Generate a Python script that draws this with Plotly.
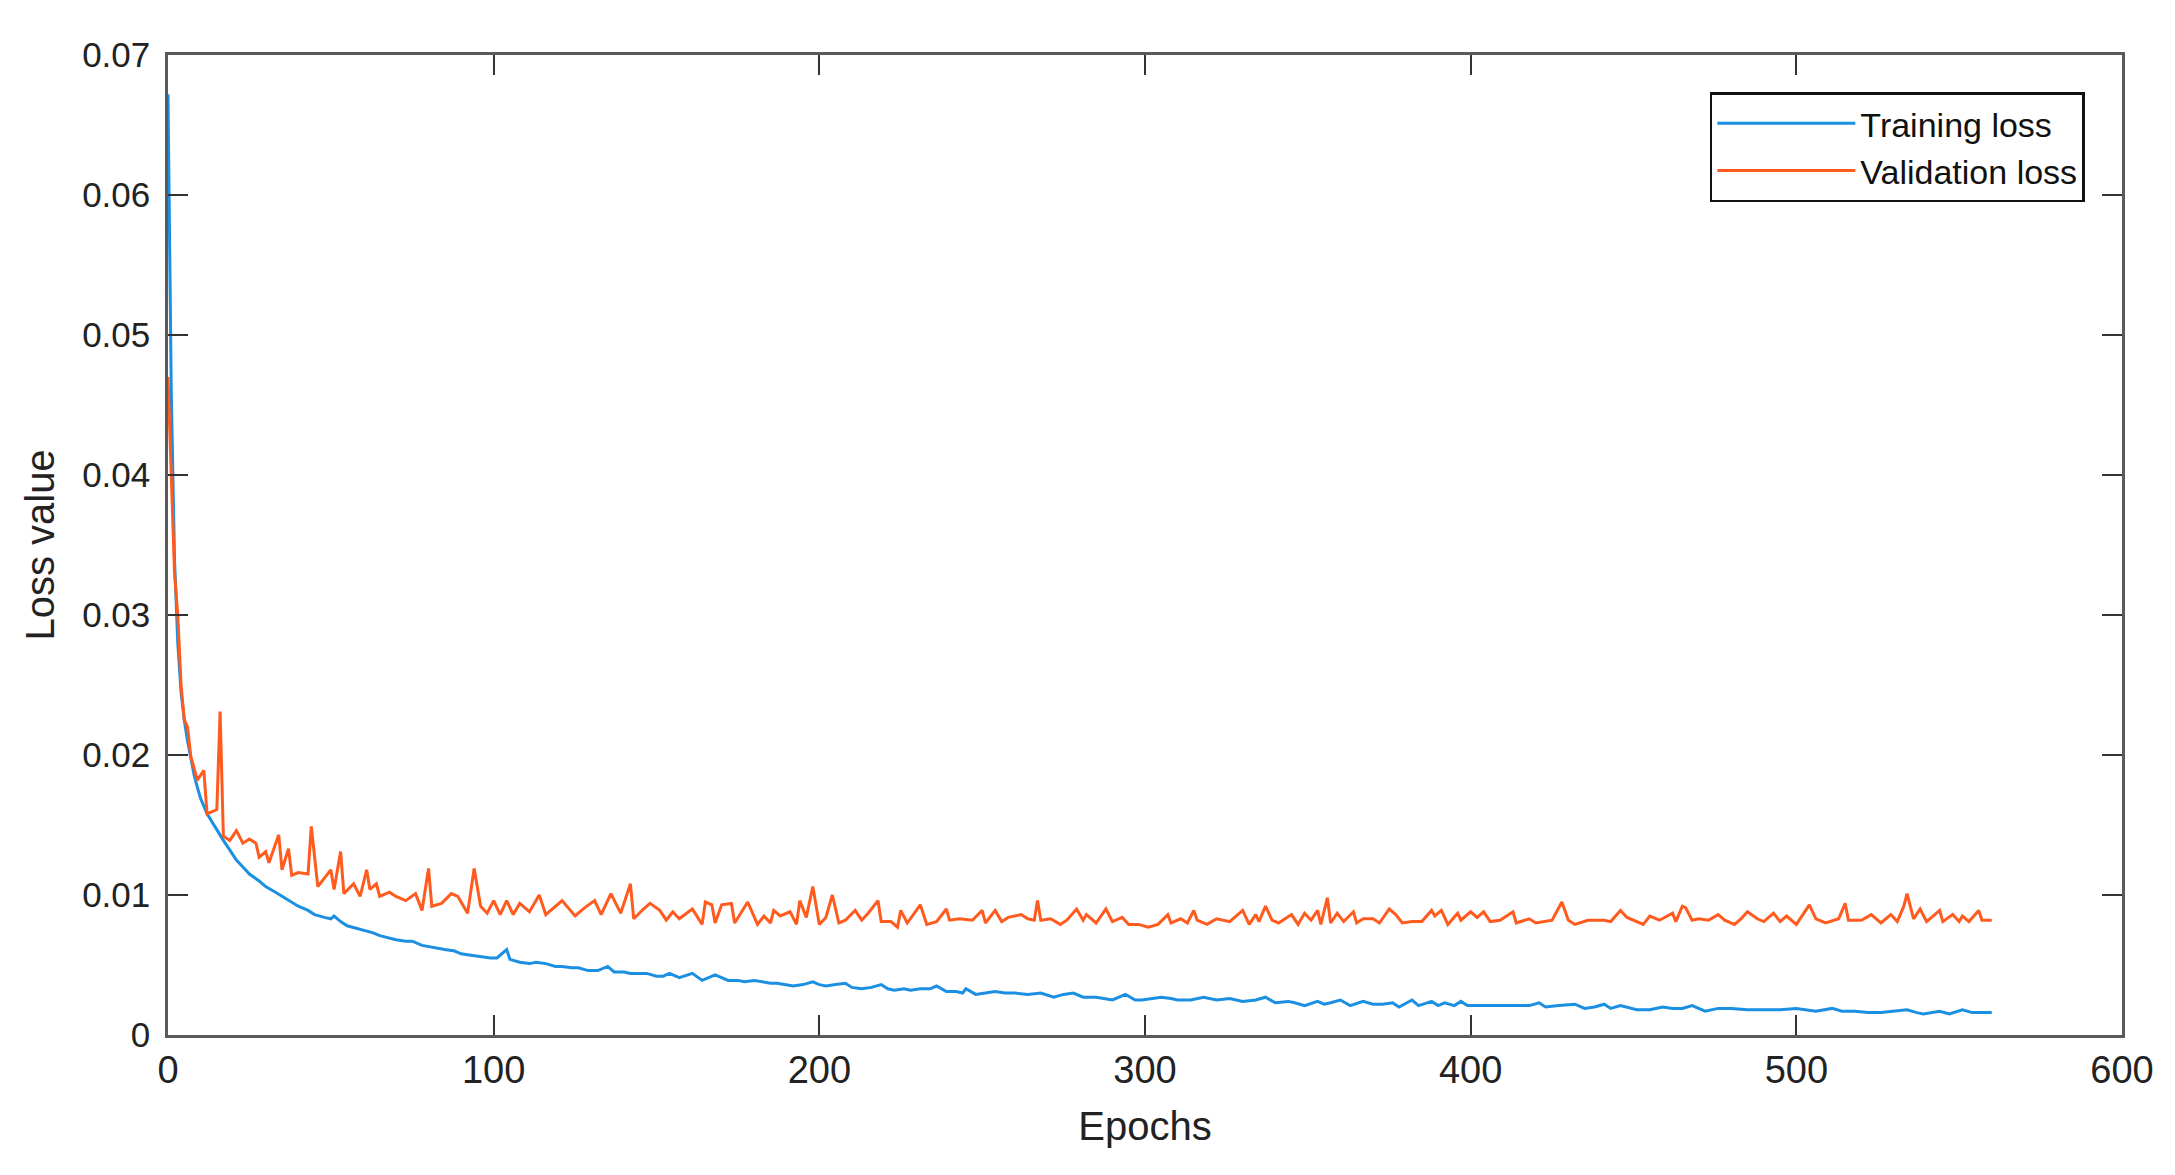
import plotly.graph_objects as go

# ---------------- data ----------------
train_epochs = [0, 1, 2, 3, 4, 5, 6, 7, 8, 9, 10, 12, 14, 17, 19, 21, 23, 25, 28, 30,
                33, 35, 38, 40, 43, 45, 48, 50, 51, 53, 55, 58, 60, 63, 65, 68, 70, 73, 75, 78,
                80, 83, 85, 88, 90, 93, 96, 99, 101, 104, 105, 108, 111, 113, 116, 119, 121, 124, 126, 129,
                132, 135, 137, 140, 142, 145, 147, 150, 152, 154, 157, 161, 164, 168, 172, 175, 177, 180, 182, 185,
                187, 190, 192, 195, 198, 200, 202, 205, 208, 210, 213, 216, 219, 221, 223, 226, 228, 231, 234, 236,
                239, 242, 244, 245, 248, 251, 254, 257, 260, 264, 268, 272, 275, 278, 281, 285, 288, 290, 294, 297,
                299, 302, 305, 308, 310, 314, 318, 322, 326, 328, 330, 334, 337, 340, 344, 346, 349, 353, 355, 357,
                360, 363, 367, 370, 373, 376, 378, 382, 384, 388, 390, 392, 395, 397, 399, 403, 408, 412, 415, 418,
                421, 423, 427, 432, 435, 438, 441, 443, 446, 448, 451, 455, 459, 462, 465, 468, 472, 476, 480, 485,
                490, 495, 500, 503, 506, 511, 514, 518, 522, 526, 530, 534, 537, 539, 544, 547, 551, 554, 557, 560]
train_loss = [0.0672, 0.0460, 0.0340, 0.0280, 0.0245, 0.0225, 0.0210, 0.0197, 0.0186, 0.0177, 0.0169, 0.0158, 0.0150, 0.0139, 0.0132, 0.0125, 0.0120, 0.0115, 0.0110, 0.0106,
              0.0102, 0.0099, 0.0095, 0.0092, 0.0089, 0.0086, 0.0084, 0.0083, 0.0085, 0.0081, 0.0078, 0.0076, 0.0075, 0.0073, 0.0071, 0.0069, 0.0068, 0.0067, 0.0067, 0.0064,
              0.0063, 0.0062, 0.0061, 0.0060, 0.0058, 0.0057, 0.0056, 0.0055, 0.0055, 0.0061, 0.0054, 0.0052, 0.0051, 0.0052, 0.0051, 0.0049, 0.0049, 0.0048, 0.0048, 0.0046,
              0.0046, 0.0049, 0.0045, 0.0045, 0.0044, 0.0044, 0.0044, 0.0042, 0.0042, 0.0044, 0.0041, 0.0044, 0.0039, 0.0043, 0.0039, 0.0039, 0.0038, 0.0039, 0.0038, 0.0037,
              0.0037, 0.0036, 0.0035, 0.0036, 0.0038, 0.0036, 0.0035, 0.0036, 0.0037, 0.0034, 0.0033, 0.0034, 0.0036, 0.0033, 0.0032, 0.0033, 0.0032, 0.0033, 0.0033, 0.0035,
              0.0031, 0.0031, 0.0030, 0.0033, 0.0029, 0.0030, 0.0031, 0.0030, 0.0030, 0.0029, 0.0030, 0.0027, 0.0029, 0.0030, 0.0027, 0.0027, 0.0026, 0.0025, 0.0029, 0.0025,
              0.0025, 0.0026, 0.0027, 0.0026, 0.0025, 0.0025, 0.0027, 0.0025, 0.0026, 0.0025, 0.0024, 0.0025, 0.0027, 0.0023, 0.0024, 0.0023, 0.0021, 0.0024, 0.0022, 0.0023,
              0.0025, 0.0021, 0.0024, 0.0022, 0.0022, 0.0023, 0.0020, 0.0025, 0.0021, 0.0024, 0.0021, 0.0023, 0.0021, 0.0024, 0.0021, 0.0021, 0.0021, 0.0021, 0.0021, 0.0021,
              0.0023, 0.0020, 0.0021, 0.0022, 0.0019, 0.0020, 0.0022, 0.0019, 0.0021, 0.0020, 0.0018, 0.0018, 0.0020, 0.0019, 0.0019, 0.0021, 0.0017, 0.0019, 0.0019, 0.0018,
              0.0018, 0.0018, 0.0019, 0.0018, 0.0017, 0.0019, 0.0017, 0.0017, 0.0016, 0.0016, 0.0017, 0.0018, 0.0016, 0.0015, 0.0017, 0.0015, 0.0018, 0.0016, 0.0016, 0.0016]

val_epochs = [0, 1, 2, 3, 4, 5, 6, 7, 9, 11, 12, 15, 16, 17, 19, 21, 23, 25, 27, 28,
              30, 31, 34, 35, 37, 38, 40, 43, 44, 46, 50, 51, 53, 54, 57, 59, 61, 62, 64, 65,
              68, 70, 73, 76, 78, 80, 81, 84, 87, 89, 92, 94, 96, 98, 100, 102, 104, 106, 108, 111,
              114, 116, 119, 121, 125, 128, 131, 133, 136, 139, 142, 143, 146, 148, 151, 153, 155, 157, 161, 164,
              165, 167, 168, 170, 173, 174, 178, 181, 183, 185, 186, 188, 191, 193, 194, 196, 198, 200, 202, 204,
              206, 208, 211, 213, 215, 218, 219, 222, 224, 225, 227, 231, 233, 236, 239, 240, 243, 247, 250, 251,
              254, 256, 258, 262, 264, 266, 267, 268, 271, 274, 276, 279, 281, 282, 285, 288, 290, 293, 295, 298,
              301, 304, 307, 308, 311, 313, 315, 316, 319, 322, 326, 330, 332, 334, 335, 337, 339, 341, 345, 347,
              349, 351, 353, 354, 356, 357, 359, 361, 364, 365, 367, 370, 372, 375, 377, 379, 382, 385, 388, 389,
              391, 393, 396, 397, 400, 402, 404, 406, 409, 413, 414, 418, 420, 425, 428, 430, 432, 436, 441, 443,
              446, 448, 453, 455, 458, 462, 463, 465, 466, 468, 470, 473, 476, 478, 481, 483, 485, 488, 490, 493,
              495, 497, 500, 504, 506, 509, 513, 515, 516, 520, 523, 526, 529, 531, 533, 534, 536, 538, 540, 544,
              545, 548, 550, 551, 553, 556, 557, 560]
val_loss = [0.0470, 0.0400, 0.0330, 0.0300, 0.0250, 0.0225, 0.0220, 0.0199, 0.0182, 0.0189, 0.0158, 0.0161, 0.0231, 0.0142, 0.0139, 0.0146, 0.0137, 0.0140, 0.0137, 0.0127,
            0.0131, 0.0123, 0.0143, 0.0118, 0.0133, 0.0114, 0.0116, 0.0115, 0.0149, 0.0106, 0.0118, 0.0104, 0.0131, 0.0101, 0.0108, 0.0099, 0.0118, 0.0104, 0.0108, 0.0099,
            0.0102, 0.0099, 0.0096, 0.0101, 0.0089, 0.0119, 0.0092, 0.0094, 0.0101, 0.0099, 0.0087, 0.0119, 0.0092, 0.0087, 0.0096, 0.0086, 0.0096, 0.0086, 0.0094, 0.0088,
            0.0100, 0.0086, 0.0092, 0.0096, 0.0085, 0.0091, 0.0096, 0.0086, 0.0101, 0.0087, 0.0108, 0.0083, 0.0090, 0.0094, 0.0089, 0.0082, 0.0088, 0.0083, 0.0090, 0.0079,
            0.0095, 0.0093, 0.0080, 0.0093, 0.0094, 0.0080, 0.0095, 0.0079, 0.0085, 0.0080, 0.0089, 0.0085, 0.0088, 0.0079, 0.0096, 0.0084, 0.0106, 0.0079, 0.0084, 0.0100,
            0.0080, 0.0082, 0.0089, 0.0082, 0.0087, 0.0096, 0.0081, 0.0081, 0.0077, 0.0089, 0.0080, 0.0093, 0.0079, 0.0081, 0.0090, 0.0082, 0.0083, 0.0082, 0.0089, 0.0080,
            0.0089, 0.0081, 0.0084, 0.0086, 0.0083, 0.0082, 0.0096, 0.0082, 0.0083, 0.0079, 0.0082, 0.0090, 0.0082, 0.0086, 0.0080, 0.0090, 0.0081, 0.0084, 0.0079, 0.0079,
            0.0077, 0.0079, 0.0086, 0.0080, 0.0083, 0.0080, 0.0089, 0.0082, 0.0079, 0.0083, 0.0081, 0.0089, 0.0079, 0.0086, 0.0081, 0.0092, 0.0082, 0.0080, 0.0086, 0.0079,
            0.0087, 0.0082, 0.0089, 0.0079, 0.0098, 0.0080, 0.0087, 0.0081, 0.0088, 0.0080, 0.0083, 0.0083, 0.0080, 0.0090, 0.0086, 0.0080, 0.0081, 0.0081, 0.0089, 0.0085,
            0.0089, 0.0079, 0.0087, 0.0082, 0.0088, 0.0084, 0.0088, 0.0081, 0.0082, 0.0088, 0.0080, 0.0083, 0.0080, 0.0082, 0.0095, 0.0082, 0.0079, 0.0082, 0.0082, 0.0081,
            0.0089, 0.0084, 0.0079, 0.0085, 0.0082, 0.0087, 0.0081, 0.0092, 0.0091, 0.0082, 0.0083, 0.0082, 0.0086, 0.0082, 0.0079, 0.0083, 0.0088, 0.0083, 0.0081, 0.0087,
            0.0081, 0.0085, 0.0079, 0.0093, 0.0083, 0.0080, 0.0083, 0.0094, 0.0082, 0.0082, 0.0086, 0.0080, 0.0086, 0.0081, 0.0092, 0.0101, 0.0083, 0.0090, 0.0081, 0.0089,
            0.0081, 0.0086, 0.0081, 0.0085, 0.0081, 0.0089, 0.0082, 0.0082]

x_ticks = [0, 100, 200, 300, 400, 500, 600]
x_tick_labels = ["0", "100", "200", "300", "400", "500", "600"]
y_ticks = [0, 0.01, 0.02, 0.03, 0.04, 0.05, 0.06, 0.07]
y_tick_labels = ["0", "0.01", "0.02", "0.03", "0.04", "0.05", "0.06", "0.07"]

series_names = ["Training loss", "Validation loss"]
x_title = "Epochs"
y_title = "Loss value"

# ---------------- figure ----------------
FONT = "Liberation Sans, Arial, Helvetica, sans-serif"
BLUE = "#1b8fe2"
ORANGE = "#ff5b1f"
TXT = "#222222"

fig = go.Figure()
fig.add_trace(go.Scatter(x=train_epochs, y=train_loss, mode="lines", name=series_names[0],
                         line=dict(color=BLUE, width=3)))
fig.add_trace(go.Scatter(x=val_epochs, y=val_loss, mode="lines", name=series_names[1],
                         line=dict(color=ORANGE, width=3)))

axis_common = dict(
    showgrid=False, zeroline=False,
    showline=True, linecolor="#5a5a5a", linewidth=2.5, mirror="allticks",
    ticks="inside", ticklen=20, tickwidth=2, tickcolor="#333333",
)

fig.update_xaxes(range=[0, 600], tickvals=x_ticks, ticktext=x_tick_labels,
                 tickfont=dict(family=FONT, size=38, color=TXT),
                 title=dict(text=x_title, font=dict(family=FONT, size=40, color=TXT), standoff=22),
                 **axis_common)
fig.update_yaxes(range=[0, 0.07], tickvals=y_ticks, ticktext=y_tick_labels,
                 tickfont=dict(family=FONT, size=35, color=TXT), ticklabelstandoff=8,
                 title=dict(text=y_title, font=dict(family=FONT, size=40, color=TXT), standoff=16),
                 **axis_common)

fig.update_layout(
    width=2159, height=1159,
    margin=dict(l=160, r=45, t=47, b=132, autoexpand=False),
    paper_bgcolor="white", plot_bgcolor="white",
    font=dict(family=FONT, color=TXT),
    legend=dict(x=0.981, y=0.962, xanchor="right", yanchor="top",
                bgcolor="white", bordercolor="#111111", borderwidth=2.5,
                font=dict(family=FONT, size=34, color="#111111"),
                itemwidth=138, tracegroupgap=0),
    showlegend=True,
)

fig.write_html("out.html")
